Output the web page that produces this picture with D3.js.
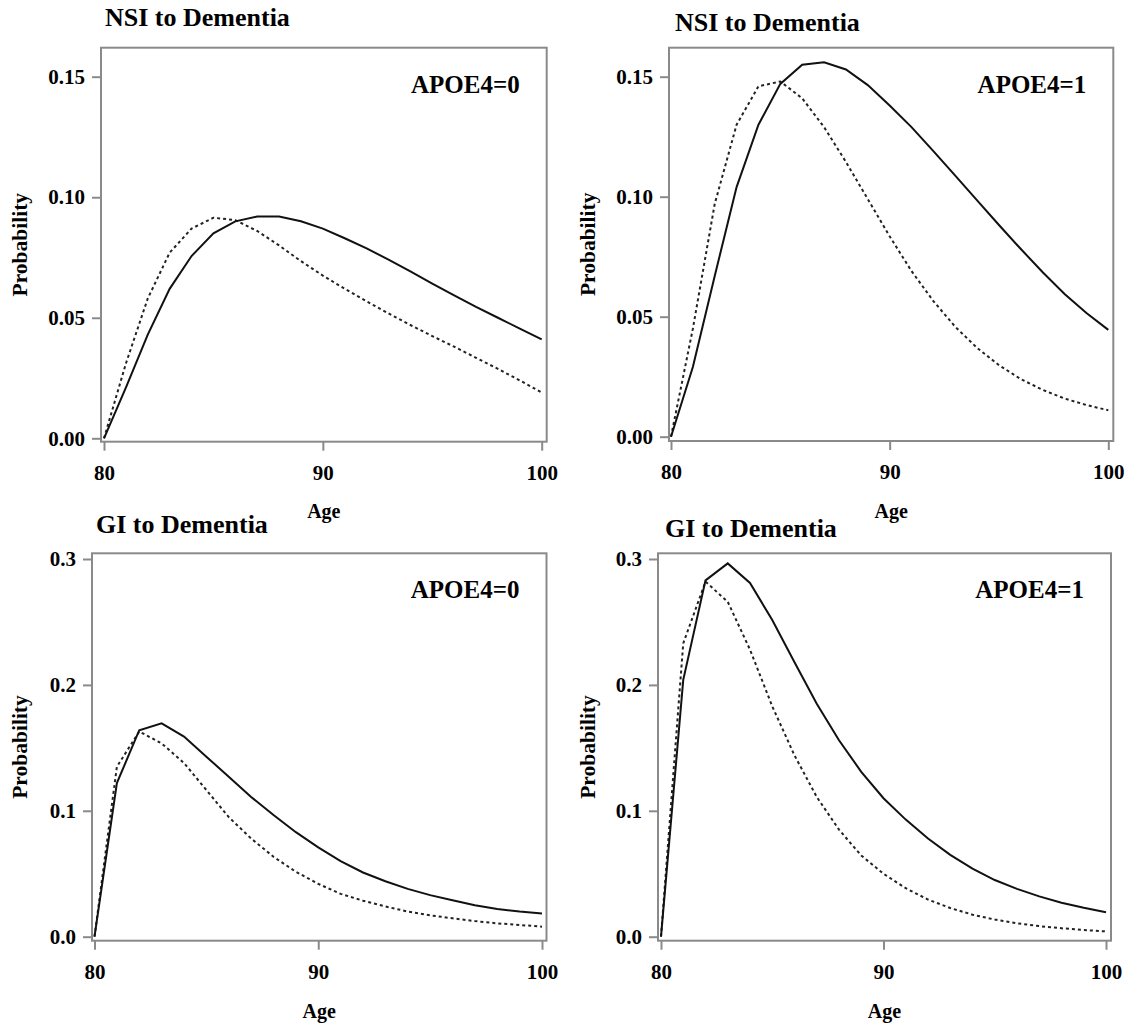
<!DOCTYPE html>
<meta charset="utf-8">
<script src="https://d3js.org/d3.v7.min.js"></script>
<style>
  body { margin: 0; background: #fff; }
  text { font-family: "Liberation Serif", "Times New Roman", serif; font-weight: bold; fill: #000; }
</style>
<div id="chart"></div>
<script>

    // ages on the x axis (one point per year)
    var ages = [80, 81, 82, 83, 84, 85, 86, 87, 88, 89, 90, 91, 92, 93, 94, 95, 96, 97, 98, 99, 100];

    // NSI to Dementia, APOE4=0
    var nsi0Solid  = [0, 0.021, 0.043, 0.062, 0.0756, 0.085, 0.090, 0.092, 0.092, 0.090, 0.087, 0.083, 0.0788, 0.0741, 0.0692, 0.0642, 0.0593, 0.0545, 0.050, 0.0455, 0.041];
    var nsi0Dotted = [0, 0.031, 0.058, 0.077, 0.087, 0.0915, 0.0905, 0.086, 0.080, 0.0735, 0.0675, 0.062, 0.0568, 0.0518, 0.047, 0.0424, 0.038, 0.0334, 0.0288, 0.0240, 0.019];

    // NSI to Dementia, APOE4=1
    var nsi1Solid  = [0, 0.029, 0.067, 0.104, 0.130, 0.147, 0.155, 0.156, 0.153, 0.1465, 0.138, 0.129, 0.119, 0.1088, 0.0985, 0.0882, 0.0782, 0.0685, 0.0595, 0.0515, 0.0445];
    var nsi1Dotted = [0, 0.045, 0.097, 0.130, 0.146, 0.148, 0.141, 0.129, 0.1145, 0.099, 0.0835, 0.069, 0.0565, 0.0458, 0.037, 0.0298, 0.024, 0.0195, 0.0159, 0.0132, 0.011];

    // GI to Dementia, APOE4=0
    var gi0Solid  = [0, 0.122, 0.164, 0.1695, 0.159, 0.143, 0.127, 0.111, 0.0966, 0.083, 0.071, 0.060, 0.051, 0.044, 0.038, 0.033, 0.029, 0.025, 0.022, 0.020, 0.0185];
    var gi0Dotted = [0, 0.135, 0.163, 0.1535, 0.138, 0.1165, 0.095, 0.078, 0.0635, 0.0516, 0.042, 0.034, 0.0286, 0.024, 0.020, 0.017, 0.0146, 0.0124, 0.0106, 0.0093, 0.008];

    // GI to Dementia, APOE4=1
    var gi1Solid  = [0, 0.204, 0.283, 0.2965, 0.281, 0.2515, 0.218, 0.185, 0.156, 0.131, 0.110, 0.093, 0.078, 0.065, 0.054, 0.045, 0.038, 0.032, 0.027, 0.023, 0.0195];
    var gi1Dotted = [0, 0.233, 0.282, 0.266, 0.228, 0.183, 0.144, 0.111, 0.085, 0.0645, 0.050, 0.0385, 0.0295, 0.0228, 0.0175, 0.0136, 0.0107, 0.0084, 0.0067, 0.0053, 0.0042];

    // tick values
    var ageTicks = [80, 90, 100];
    var nsiTicks = [0, 0.05, 0.10, 0.15];
    var giTicks  = [0, 0.1, 0.2, 0.3];

    var titles = ["NSI to Dementia", "NSI to Dementia", "GI to Dementia", "GI to Dementia"];
    var apoeLabels = ["APOE4=0", "APOE4=1", "APOE4=0", "APOE4=1"];

    // panel layout (pixels): where the ticks 80/100 and the lowest/highest y tick fall, and the box
    var panels = [
        { solid: nsi0Solid, dotted: nsi0Dotted, yTicks: nsiTicks, fmt: ".2f",
          x0: 104, x1: 541.7, y0: 438.3, y1: 76.7, box: [101, 47.7, 546.7, 441.7],
          titleX: 105, titleY: 26, ylabX: 20, ageY: 518 },
        { solid: nsi1Solid, dotted: nsi1Dotted, yTicks: nsiTicks, fmt: ".2f",
          x0: 671, x1: 1108.3, y0: 436.7, y1: 76.7, box: [669, 47.7, 1113.3, 441],
          titleX: 675, titleY: 31, ylabX: 588, ageY: 518 },
        { solid: gi0Solid, dotted: gi0Dotted, yTicks: giTicks, fmt: ".1f",
          x0: 94.5, x1: 542, y0: 936.7, y1: 559, box: [92, 553.3, 546.5, 940.7],
          titleX: 96, titleY: 533, ylabX: 20, ageY: 1018 },
        { solid: gi1Solid, dotted: gi1Dotted, yTicks: giTicks, fmt: ".1f",
          x0: 661, x1: 1106, y0: 936.7, y1: 559, box: [658, 553.3, 1111, 940.7],
          titleX: 665, titleY: 537, ylabX: 588, ageY: 1018 }
    ];

    var svg = d3.select("#chart")
        .append("svg")
        .attr("width", 1131)
        .attr("height", 1028);

    panels.forEach(function (p, i) {
        var g = svg.append("g");
        var yMax = p.yTicks[p.yTicks.length - 1];

        var x = d3.scaleLinear().domain([80, 100]).range([p.x0, p.x1]);
        var y = d3.scaleLinear().domain([0, yMax]).range([p.y0, p.y1]);

        var bl = p.box[0], bt = p.box[1], br = p.box[2], bb = p.box[3];

        // lines
        var line = d3.line()
            .x(function (d, k) { return x(ages[k]); })
            .y(function (d) { return y(d); });

        g.append("path")
            .datum(p.dotted)
            .attr("d", line)
            .attr("fill", "none")
            .attr("stroke", "#222")
            .attr("stroke-width", 2)
            .attr("stroke-dasharray", "3,3");

        g.append("path")
            .datum(p.solid)
            .attr("d", line)
            .attr("fill", "none")
            .attr("stroke", "#111")
            .attr("stroke-width", 2);

        // box
        g.append("rect")
            .attr("x", bl).attr("y", bt)
            .attr("width", br - bl).attr("height", bb - bt)
            .attr("fill", "none")
            .attr("stroke", "#8a8a8a")
            .attr("stroke-width", 2);

        // x axis
        var xa = g.append("g")
            .attr("transform", "translate(0," + bb + ")")
            .call(d3.axisBottom(x).tickValues(ageTicks).tickSize(9).tickPadding(14));
        // y axis
        var ya = g.append("g")
            .attr("transform", "translate(" + bl + ",0)")
            .call(d3.axisLeft(y).tickValues(p.yTicks).tickFormat(d3.format(p.fmt)).tickSize(9).tickPadding(7));

        [xa, ya].forEach(function (a) {
            a.select(".domain").remove();
            a.selectAll(".tick line").attr("stroke", "#8a8a8a").attr("stroke-width", 2);
            a.selectAll(".tick text")
                .attr("fill", "#000")
                .style("font-family", "'Liberation Serif', serif")
                .style("font-weight", "bold")
                .style("font-size", "21px");
        });

        // title
        g.append("text")
            .attr("x", p.titleX)
            .attr("y", p.titleY)
            .style("font-size", "26px")
            .text(titles[i]);

        // APOE4 label
        g.append("text")
            .attr("x", br - 27)
            .attr("y", bt + 45)
            .attr("text-anchor", "end")
            .style("font-size", "25px")
            .text(apoeLabels[i]);

        // axis titles
        g.append("text")
            .attr("transform", "translate(" + (p.ylabX + 7) + "," + ((bt + bb) / 2) + ") rotate(-90)")
            .attr("text-anchor", "middle")
            .style("font-size", "21.5px")
            .text("Probability");

        g.append("text")
            .attr("x", (bl + br) / 2)
            .attr("y", p.ageY)
            .attr("text-anchor", "middle")
            .style("font-size", "20px")
            .text("Age");
    });
</script>
